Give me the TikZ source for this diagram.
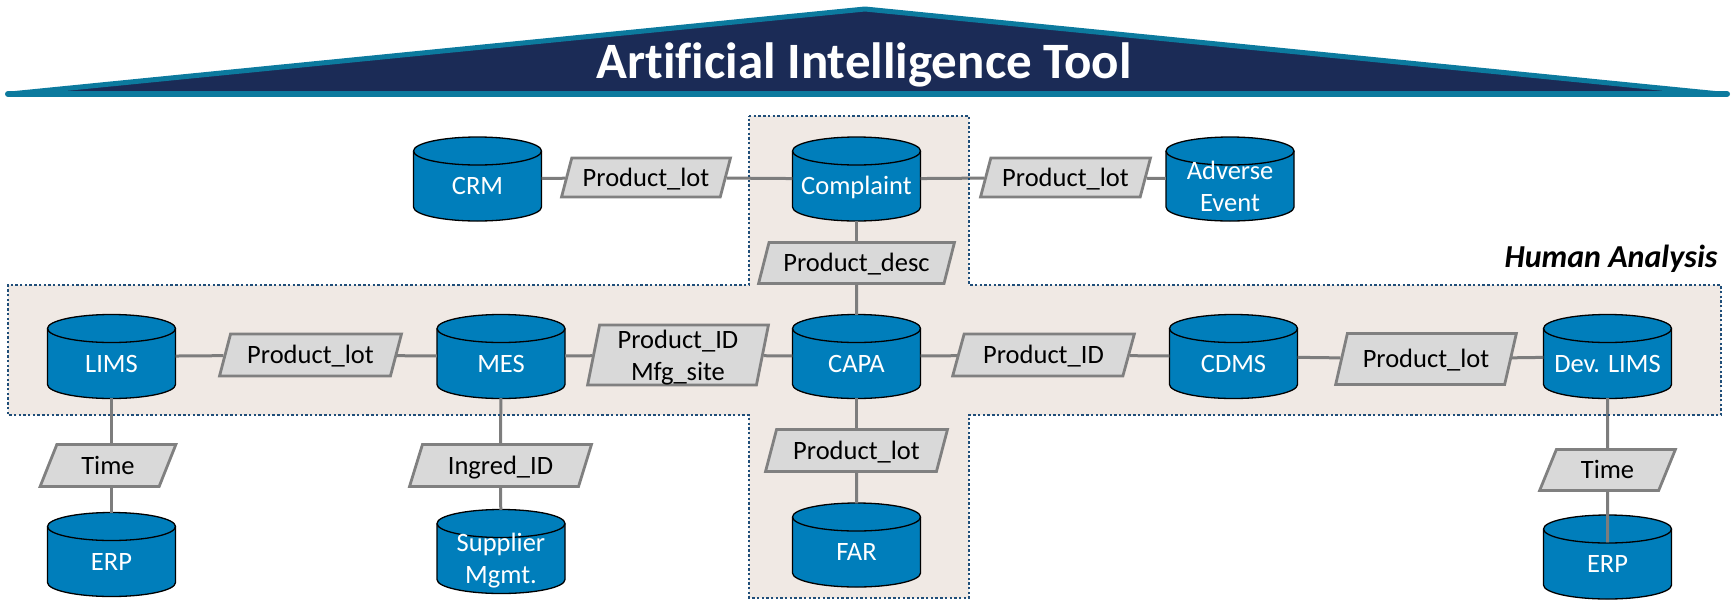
\documentclass[tikz,border=0pt]{standalone}
\usepackage{fontspec}
\setmainfont{Carlito}[Ligatures=NoCommon]
\usetikzlibrary{shapes.geometric}

\definecolor{navy}{RGB}{27,43,86}
\definecolor{roofteal}{RGB}{12,122,158}
\definecolor{dbblue}{RGB}{0,126,187}
\definecolor{boxfill}{RGB}{217,217,217}
\definecolor{boxgray}{RGB}{128,128,128}
\definecolor{linkgray}{RGB}{125,125,125}
\definecolor{bandfill}{RGB}{240,233,228}
\definecolor{dotblue}{RGB}{31,78,121}

% two centred lines, baseline on the first one
\newcommand\twol[2]{\begin{tabular}[t]{@{}c@{}}#1\\#2\end{tabular}}

% database cylinder: [node options]{name}{x}{y}{text}
\newcommand\dbcyl[5][]{%
  \begin{scope}[shift={(#3,#4)}]
    \filldraw[cylbody] (-64pt,28pt) -- (-64pt,-28pt)
      arc[start angle=180,end angle=360,x radius=64pt,y radius=14pt]
      -- (64pt,28pt)
      arc[start angle=0,end angle=180,x radius=64pt,y radius=14pt] -- cycle;
    \draw[cylbody,fill=none] (-64pt,28pt)
      arc[start angle=180,end angle=360,x radius=64pt,y radius=14pt];
  \end{scope}
  \node[dbtext,#1] (#2) at (#3,#4) {#5};
}

\tikzset{
  cylbody/.style={fill=dbblue, draw=black, line width=1.3pt},
  dbtext/.style={rectangle, inner sep=0pt, minimum width=128pt, minimum height=83pt,
    text=white, font={\fontsize{26.5}{32}\selectfont}, text height=41.8pt, text depth=10pt},
  twoline/.style={text height=40pt, text depth=40pt},
  plbox/.style={trapezium, trapezium stretches=true, trapezium left angle=77,
    trapezium right angle=103, draw=boxgray, fill=boxfill, line width=2.8pt,
    inner sep=0pt, font={\fontsize{26.5}{32}\selectfont},
    text height=27.8pt, text depth=10pt},
  conn/.style={draw=linkgray, line width=3pt},
  band/.style={draw=dotblue, line width=2.4pt, dash pattern=on 2.4pt off 2.3pt},
}

\begin{document}
\begin{tikzpicture}[x=1pt,y=-1pt]
\useasboundingbox (0,0) rectangle (1736,600);

% shaded "Human Analysis" area
\path[fill=bandfill] (749,116) -- (969,116) -- (969,285) -- (1721,285) -- (1721,415)
  -- (969,415) -- (969,598) -- (749,598) -- (749,415) -- (8,415) -- (8,285)
  -- (749,285) -- cycle;

% roof
\fill[navy] (10,94) -- (865,9) -- (1720,94) -- cycle;
\draw[roofteal, line width=5pt, line join=round] (10,94) -- (865,9) -- (1720,94);
\draw[roofteal, line width=6pt, line cap=round] (8,94) -- (1727,94);
\node[anchor=base, text=white, font={\fontsize{51}{58}\selectfont\bfseries}] (title)
  at (864,78) {Artificial Intelligence Tool};

% databases
\dbcyl{crm}{477.5}{179}{CRM}
\dbcyl{complaint}{856.5}{179}{Complaint}
\dbcyl[twoline]{adverse}{1230}{179}{\twol{Adverse}{Event}}
\dbcyl{lims}{111.5}{356.5}{LIMS}
\dbcyl{mes}{501}{356.5}{MES}
\dbcyl{capa}{856.5}{356.5}{CAPA}
\dbcyl{cdms}{1233.5}{356.5}{CDMS}
\dbcyl{devlims}{1607.5}{356.5}{Dev. LIMS}
\dbcyl{erpl}{111.5}{554.5}{ERP}
\dbcyl[twoline]{supplier}{501}{551.5}{\twol{Supplier}{Mgmt.}}
\dbcyl{far}{856.5}{545}{FAR}
\dbcyl{erpr}{1607.5}{557}{ERP}

% linking keys
\node[plbox, minimum width=169pt, minimum height=39pt] (lot1) at (646,177.5) {Product\_lot};
\node[plbox, minimum width=170pt, minimum height=39pt] (lot2) at (1065.5,177.5) {Product\_lot};
\node[plbox, minimum width=196pt, minimum height=41pt] (desc) at (856.5,263) {Product\_desc};
\node[plbox, minimum width=182pt, minimum height=42pt] (lot3) at (310.5,355) {Product\_lot};
\node[plbox, minimum width=181pt, minimum height=60pt, trapezium left angle=76,
  trapezium right angle=104, text height=12pt, text depth=25pt] (idsite)
  at (678,355) {\twol{Product\_ID}{Mfg\_site}};
\node[plbox, minimum width=182pt, minimum height=42pt] (pid) at (1043.5,355) {Product\_ID};
\node[plbox, minimum width=181pt, minimum height=51pt, trapezium left angle=76,
  trapezium right angle=104] (lot4) at (1426,359) {Product\_lot};
\node[plbox, minimum width=136pt, minimum height=42pt] (timel) at (108,465.5) {Time};
\node[plbox, minimum width=182pt, minimum height=42pt] (ingred) at (500.5,465.5) {Ingred\_ID};
\node[plbox, minimum width=182pt, minimum height=42pt] (lot5) at (856.5,450.5) {Product\_lot};
\node[plbox, minimum width=136pt, minimum height=41pt] (timer) at (1607.5,470) {Time};

% connectors
\foreach \a/\b in {crm/lot1, lot1/complaint, complaint/lot2, lot2/adverse,
    complaint/desc, desc/capa,
    lims/lot3, lot3/mes, mes/idsite, idsite/capa, capa/pid, pid/cdms, cdms/lot4, lot4/devlims,
    mes/ingred, ingred/supplier, capa/lot5, lot5/far, devlims/timer}
  \draw[conn] (\a) -- (\b);
\draw[conn] (lims) -- (lims |- timel.north);
\draw[conn] (lims |- timel.south) -- (lims |- erpl.north);
\draw[conn] (timer) -- ([yshift=-27pt]erpr.north);

% dotted outline of the area
\draw[band] (749,116) -- (969,116) -- (969,285) -- (1721,285) -- (1721,415)
  -- (969,415) -- (969,598) -- (749,598) -- (749,415) -- (8,415) -- (8,285)
  -- (749,285) -- cycle;
\node[anchor=base east, font={\fontsize{32}{38}\selectfont\bfseries\itshape}] (human)
  at (1721,267) {Human Analysis};
\end{tikzpicture}
\end{document}
